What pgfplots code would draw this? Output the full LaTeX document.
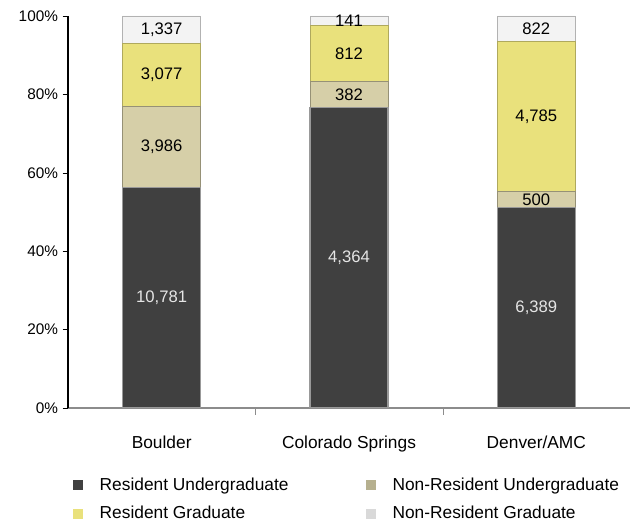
\documentclass[border=0pt]{standalone}
\usepackage{pgfplots}
\usepackage{pgfplotstable}
\pgfplotsset{compat=1.18}
\usepackage{fontspec}
\setmainfont{Liberation Sans}
\definecolor{ru}{HTML}{404040}
\definecolor{nru}{HTML}{D6CFA8}
\definecolor{rg}{HTML}{E9E17C}
\definecolor{nrg}{HTML}{F3F3F3}
\definecolor{axgray}{HTML}{8C8C8C}

\pgfplotstableread{
x p n
0 56.21 10,781
1 76.58 4,364
2 51.13 6,389
}\ResUG
\pgfplotstableread{
x p n
0 20.78 3,986
1 6.70 382
2 4.00 500
}\NonResUG
\pgfplotstableread{
x p n
0 16.04 3,077
1 14.25 812
2 38.29 4,785
}\ResG
\pgfplotstableread{
x p n
0 6.97 1,337
1 2.47 141
2 6.58 822
}\NonResG

\begin{document}
\begin{tikzpicture}
\useasboundingbox (0,0) rectangle (479.25pt,395.25pt);
\begin{axis}[
  at={(51pt,89.25pt)}, anchor=south west,
  scale only axis, width=421.5pt, height=294pt,
  ybar stacked, bar width=58.5pt,
  xmin=-0.5, xmax=2.5, ymin=0, ymax=100,
  xtick={0,1,2}, xticklabels={Boulder,Colorado Springs,Denver/AMC},
  minor xtick={0.5,1.5},
  major x tick style={draw=none},
  minor x tick style={axgray},
  minor tick length=5pt,
  ytick={0,20,40,60,80,100},
  yticklabels={0\%,20\%,40\%,60\%,80\%,100\%},
  tick align=outside, major tick length=4pt,
  y tick style={black},
  axis x line*=bottom, axis y line*=left,
  x axis line style={axgray, line width=1pt, -},
  y axis line style={black, line width=0.9pt, -},
  yticklabel style={font=\fontsize{11.5}{13}\selectfont},
  xticklabel style={font=\fontsize{13}{15}\selectfont, yshift=-13.5pt},
  point meta=explicit symbolic,
  nodes near coords,
  every node near coord/.append style={font=\fontsize{12.5}{14}\selectfont, anchor=center},
  legend columns=2,
  legend style={draw=none, at={(0.009,-0.1786)}, anchor=north west, font=\fontsize{13}{15}\selectfont,
    inner sep=0pt, outer sep=0pt, nodes={inner sep=0pt},
    cells={anchor=west}, row sep=10.3pt,
    /tikz/column 2/.style={column sep=58pt}},
  legend image code/.code={\fill[#1, draw=none] (0pt,-3.75pt) rectangle (7.5pt,3.75pt); \path[draw=none, fill=none] (0pt,0pt) -- (20pt,0pt);},
]
\addplot[fill=ru, draw=gray!80, line width=0.8pt, every node near coord/.append style={text=white!90!black}] table[x=x, y=p, meta=n] {\ResUG};
\addplot[fill=nru, draw=nru!70!black, line width=0.6pt, legend image post style={fill=nru!85!black}] table[x=x, y=p, meta=n] {\NonResUG};
\addplot[fill=rg, draw=rg!75!black, line width=0.6pt] table[x=x, y=p, meta=n] {\ResG};
\addplot[fill=nrg, draw=gray!60, line width=0.6pt, legend image post style={fill=gray!30}] table[x=x, y=p, meta=n] {\NonResG};
\legend{Resident Undergraduate, Non-Resident Undergraduate, Resident Graduate, Non-Resident Graduate}
\end{axis}
\end{tikzpicture}
\end{document}
